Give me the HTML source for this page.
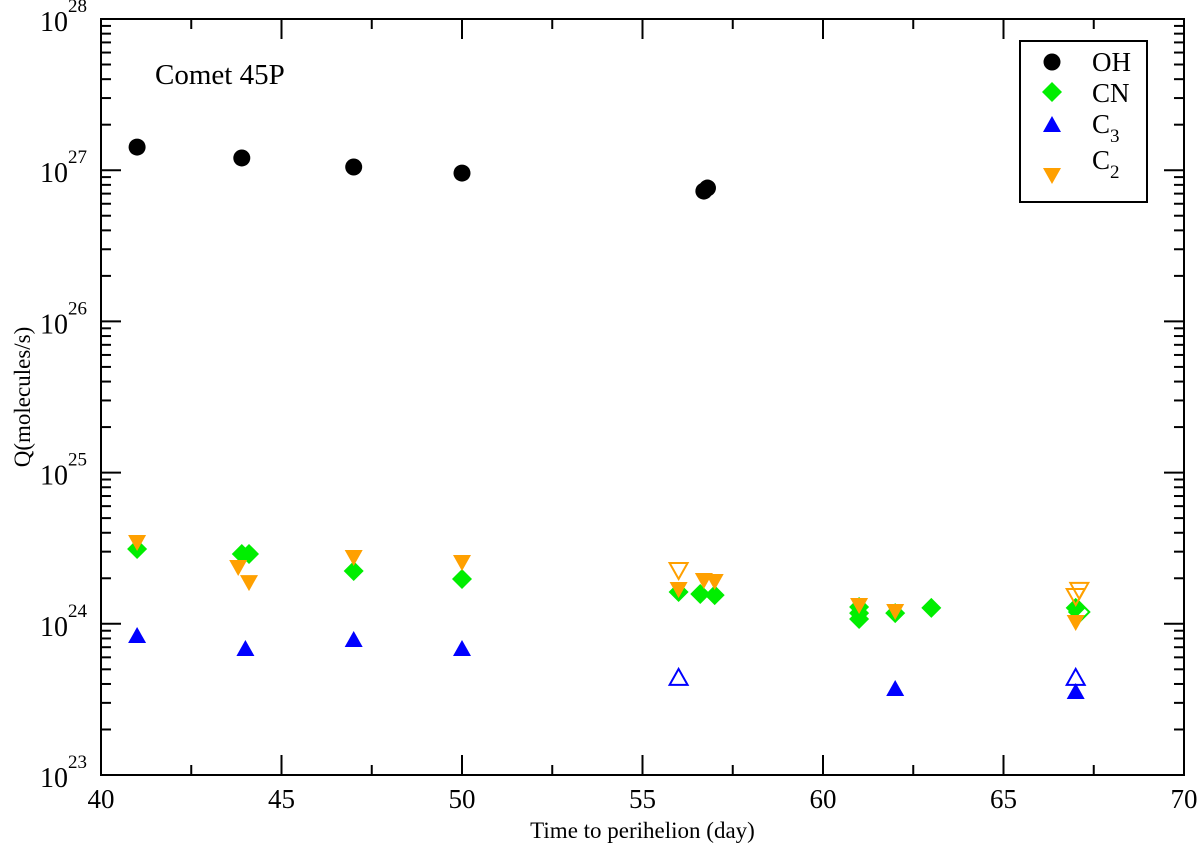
<!DOCTYPE html>
<html><head><meta charset="utf-8"><style>
html,body{margin:0;padding:0;background:#fff;}
svg{display:block;font-family:"Liberation Serif",serif;}
</style></head><body>
<svg id="chart" width="1200" height="851" viewBox="0 0 1200 851"></svg>
<script>
// data (log10 Q)
const ohX=[41,43.9,47,50,56.7,56.8];
const ohY=[27.153,27.081,27.021,26.981,26.862,26.882];
const cnX=[41,43.9,44.1,47,50,56,56.6,57,61,61,61,62,63,67];
const cnY=[24.495,24.462,24.462,24.349,24.296,24.210,24.197,24.190,24.111,24.071,24.032,24.071,24.105,24.105];
const cnOpenX=[67.1];
const cnOpenY=[24.078];
const c3X=[41,44,47,50,62,67];
const c3Y=[23.919,23.833,23.893,23.833,23.569,23.549];
const c3OpenX=[56,67];
const c3OpenY=[23.642,23.642];
const c2X=[41,43.8,44.1,47,50,56,56.7,57,61,62,67];
const c2Y=[24.541,24.376,24.276,24.442,24.409,24.230,24.290,24.283,24.124,24.085,24.012];
const c2OpenX=[56,67,67.1];
const c2OpenY=[24.356,24.184,24.224];
const xTicks=[40,45,50,55,60,65,70];
const yTicks=[23,24,25,26,27,28];

const L=101,R=1184,T=19,B=775;
const xs=v=>L+(v-40)/30*(R-L);
const ys=v=>B-(v-23)/5*(B-T);
const svg=document.getElementById('chart');
const NS='http://www.w3.org/2000/svg';
function mk(tag,attrs,parent){const e=document.createElementNS(NS,tag);for(const k in attrs)e.setAttribute(k,attrs[k]);(parent||svg).appendChild(e);return e;}

const frame=mk('rect',{x:L,y:T,width:R-L,height:B-T,fill:'none',stroke:'#000','stroke-width':2});



for(let v=40;v<=70;v+=2.5){
  const major=(v%5===0);const len=major?20:10;const x=xs(v);
  const t1=mk('line',{x1:x,y1:B,x2:x,y2:B-len,stroke:'#000','stroke-width':2});
  
  
  const t2=mk('line',{x1:x,y1:T,x2:x,y2:T+len,stroke:'#000','stroke-width':2});
  
  
}
xTicks.forEach(v=>{
  const t=mk('text',{x:xs(v),y:808,'text-anchor':'middle','font-size':27});
  t.textContent=v;
  
  
});
for(let d=23;d<28;d++){
  for(let m=1;m<10;m++){
    const v=d+Math.log10(m);const y=ys(v);const len=m===1?20:10;
    const a=mk('line',{x1:L,y1:y,x2:L+len,y2:y,stroke:'#000','stroke-width':2});
    
    
    const b=mk('line',{x1:R,y1:y,x2:R-len,y2:y,stroke:'#000','stroke-width':2});
    
    
  }
}
yTicks.forEach(v=>{
  const y=ys(v);
  const t=mk('text',{x:40,y:y+12,'font-size':28});
  t.textContent='10';
  const s=mk('tspan',{dy:-19,'font-size':19},t);
  s.textContent=v;
  
  
});
const xt=mk('text',{x:xs(55),y:838,'text-anchor':'middle','font-size':23});
xt.textContent='Time to perihelion (day)';


const yt=mk('text',{x:0,y:0,'text-anchor':'middle','font-size':23,transform:'translate(30,'+((T+B)/2)+') rotate(-90)'});
yt.textContent='Q(molecules/s)';


const tt=mk('text',{x:155,y:84,'font-size':29});
tt.textContent='Comet 45P';



function marker(type,x,y,color,open,g){
  const st=open?{fill:'none',stroke:color,'stroke-width':2}:{fill:color};
  if(type==='circle')return mk('circle',Object.assign({cx:x,cy:y,r:8.5},st),g);
  if(type==='diamond')return mk('polygon',Object.assign({points:`${x},${y-10} ${x+10},${y} ${x},${y+10} ${x-10},${y}`},st),g);
  if(type==='up')return mk('polygon',Object.assign({points:`${x},${y-9} ${x+9},${y+7} ${x-9},${y+7}`},st),g);
  return mk('polygon',Object.assign({points:`${x},${y+9} ${x+9},${y-7} ${x-9},${y-7}`},st),g);
}
function series(name,xa,ya,type,color,open){
  const g=mk('g',{});
  
  
  xa.forEach((xv,i)=>{
    const m=marker(type,xs(xv),ys(ya[i]),color,open,g);
    
    
  });
}
series('cn-series',cnX,cnY,'diamond','#00ee00',false);
series('cn-open-series',cnOpenX,cnOpenY,'diamond','#00ee00',true);
series('c2-series',c2X,c2Y,'down','#ffa000',false);
series('c2-open-series',c2OpenX,c2OpenY,'down','#ffa000',true);
series('c3-series',c3X,c3Y,'up','#0000ff',false);
series('c3-open-series',c3OpenX,c3OpenY,'up','#0000ff',true);
series('oh-series',ohX,ohY,'circle','#000',false);

const lg=mk('g',{});


mk('rect',{x:1020,y:41,width:127,height:161,fill:'#fff',stroke:'#000','stroke-width':2},lg);
const items=[['OH','circle','#000',62,71,''],['CN','diamond','#00ee00',92,102,''],['C','up','#0000ff',125,133,'3'],['C','down','#ffa000',175,169,'2']];
items.forEach(it=>{
  const e=mk('g',{},lg);
  
  
  marker(it[1],1052,it[3],it[2],false,e);
  const t=mk('text',{x:1092,y:it[4],'font-size':27},e);
  t.textContent=it[0];
  if(it[5]){const s=mk('tspan',{dy:9,'font-size':19},t);s.textContent=it[5];}
});
</script>
</body></html>
